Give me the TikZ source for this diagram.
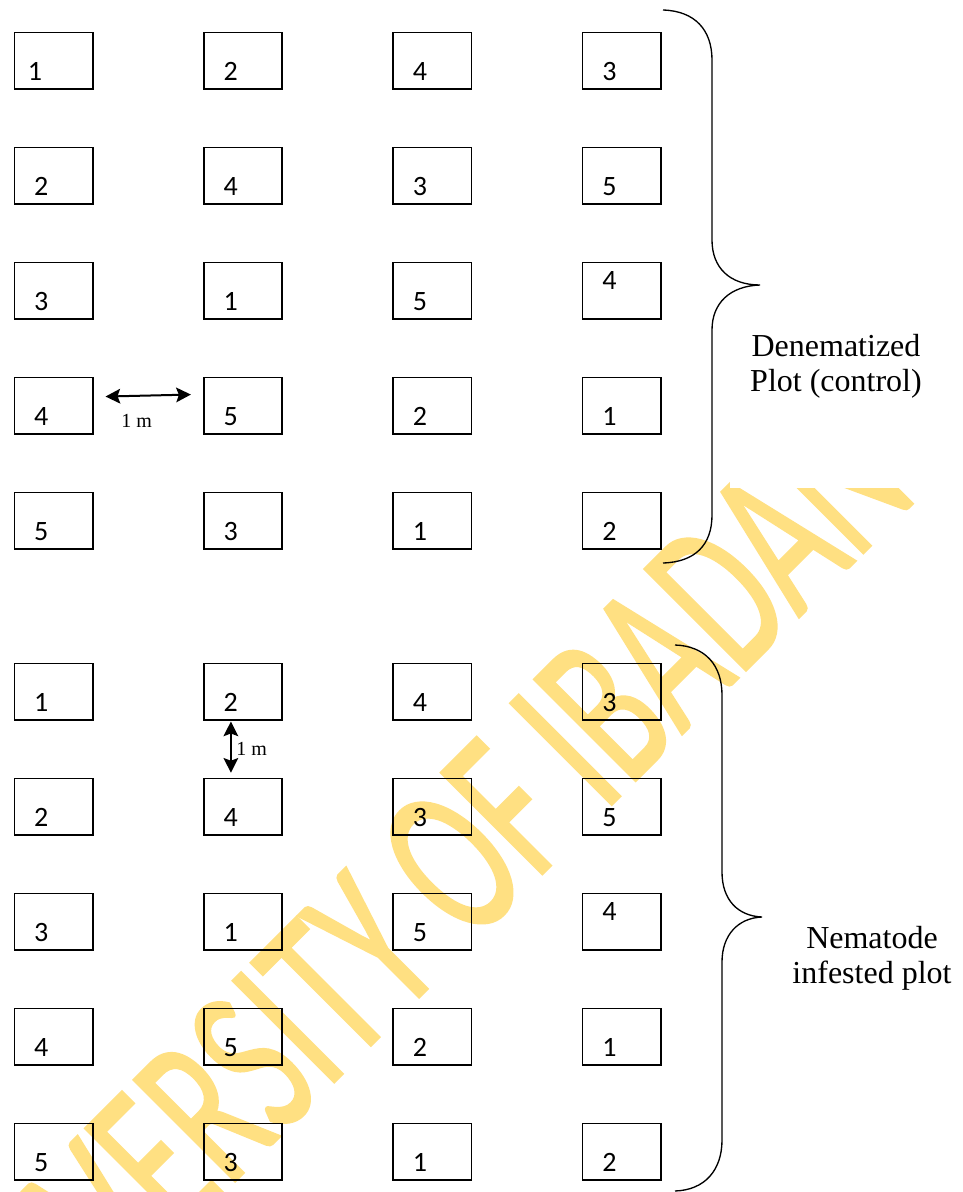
\documentclass[tikz,border=0pt]{standalone}
\usepackage{graphicx}
\usepackage{fontspec}
\setmainfont{Liberation Serif}
\newfontfamily\calfont{Carlito}
\newfontfamily\wmfont[FakeBold=1.3]{Carlito}
\usetikzlibrary{arrows.meta,calc}
\definecolor{wmyellow}{RGB}{255,224,130}

\begin{document}
\begin{tikzpicture}[x=0.75pt,y=-0.75pt,
  plotbox/.style={draw, line width=1.2pt, minimum width=58.8pt, minimum height=42.5pt, inner sep=0pt},
  plotnum/.style={font=\calfont\fontsize{21}{21}\selectfont, anchor=base, inner sep=0pt},
  bracket/.style={line width=1pt},
  gap/.style={line width=1.5pt, {Stealth[length=11pt,width=11pt,inset=2pt]}-{Stealth[length=11pt,width=11pt,inset=2pt]}},
  caption/.style={font=\fontsize{24}{26.5}\selectfont, align=center, inner sep=0pt},
  dist/.style={font=\fontsize{15}{15}\selectfont, anchor=base west, inner sep=0pt}]

\useasboundingbox (0,0) rectangle (963,1192);
\fill[white] (0,0) rectangle (963,1192);

% watermark across the sheet
\node[rotate=45, anchor=base west, inner sep=0pt, text=wmyellow,
      font=\wmfont\fontsize{167}{167}\selectfont] (wm) at (-30,1446)
      {\scalebox{0.63}[1]{UNIVERSITY OF IBADAN}};
\fill[white] (730,0) rectangle (963,488);

% the two blocks of plots: 5 rows x 4 columns each
\foreach \half/\top/\h in {t/31.7/0, b/662.7/1} {
  \foreach [count=\r] \row in {{1,2,4,3},{2,4,3,5},{3,1,5,4},{4,5,2,1},{5,3,1,2}} {
    \foreach [count=\c] \d in \row {
      \pgfmathsetmacro\px{13.5+189.4*(\c-1)+40}
      \pgfmathsetmacro\py{\top+115*(\r-1)+29.15}
      \pgfmathsetmacro\dx{(\h==0 && \r==1 && \c==1) ? 21.5 : 27.7}
      \pgfmathsetmacro\dy{(\r==3 && \c==4) ? 27.5 : 48.5}
      \node[plotbox] (\half\r\c) at (\px,\py) {};
      \node[plotnum] (n\half\r\c) at ($(\half\r\c.north west)+(\dx,\dy)$) {\d};
    }
  }
}

% spacing indicators
\draw[gap] ([shift={(12,-9.3)}]t41.east) -- ([shift={(-12,-11.3)}]t42.west);
\node[dist] (m1) at (121,427) {1 m};
\draw[gap] ([shift={(-12,0.5)}]b12.south) -- ([shift={(-12,-5)}]b22.north);
\node[dist] (m2) at (236,755) {1 m};

% braces
\draw[bracket] (663,10) .. controls (695,11) and (712,30) .. (712,60) -- (712,240)
  .. controls (712,268) and (730,285) .. (760,285)
  .. controls (730,286) and (712,303) .. (712,330) -- (712,515)
  .. controls (712,545) and (695,562) .. (663,563);
\draw[bracket] (675,645) .. controls (705,646) and (722,665) .. (722,695) -- (722,872)
  .. controls (722,900) and (738,916) .. (762,917)
  .. controls (738,918) and (722,935) .. (722,962) -- (722,1140)
  .. controls (722,1170) and (705,1190) .. (675,1191);

\node[caption] (ctl) at (836,366) {Denematized\\Plot (control)};
\node[caption] (inf) at (872,958) {Nematode\\infested plot};
\end{tikzpicture}
\end{document}
